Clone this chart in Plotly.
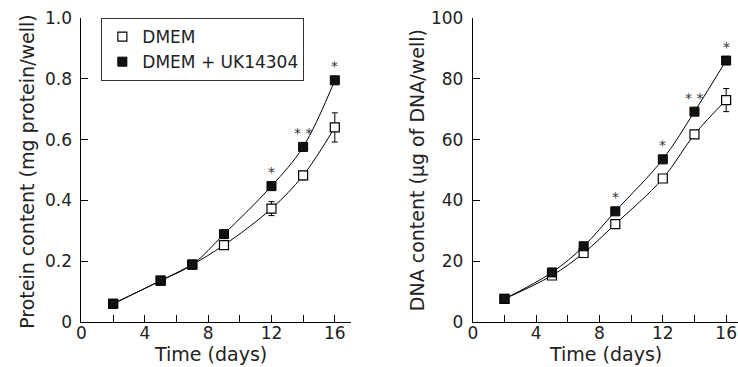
import plotly.graph_objects as go

# ---------------- data ----------------
days = [2, 5, 7, 9, 12, 14, 16]

protein_dmem = [0.060, 0.136, 0.189, 0.253, 0.373, 0.482, 0.640]
protein_dmem_err = [0, 0, 0, 0, 0.023, 0.014, 0.048]
protein_uk = [0.060, 0.136, 0.189, 0.289, 0.447, 0.576, 0.795]
protein_uk_err = [0, 0, 0, 0, 0, 0, 0.008]

dna_dmem = [7.6, 15.3, 22.7, 32.2, 47.2, 61.7, 73.0]
dna_dmem_err = [0, 0, 0, 0, 0, 1.3, 3.8]
dna_uk = [7.6, 16.3, 24.9, 36.4, 53.5, 69.2, 86.0]
dna_uk_err = [0, 0, 0, 0, 0, 0.8, 0]

protein_sig_days = [12, 14, 16]
protein_sig_marks = ["*", "* *", "*"]
dna_sig_days = [9, 12, 14, 16]
dna_sig_marks = ["*", "*", "* *", "*"]

x_tickvals = [0, 2, 4, 6, 8, 10, 12, 14, 16]
x_ticktext = ["0", "", "4", "", "8", "", "12", "", "16"]
protein_tickvals = [0, 0.2, 0.4, 0.6, 0.8, 1.0]
protein_ticktext = ["0", "0.2", "0.4", "0.6", "0.8", "1.0"]
dna_tickvals = [0, 20, 40, 60, 80, 100]
dna_ticktext = ["0", "20", "40", "60", "80", "100"]

series_names = ["DMEM", "DMEM + UK14304"]

# ---------------- figure ----------------
W, H = 738, 367
MT, MB = 18, 45
PH = H - MT - MB
FONT = "DejaVu Sans"

def px_x(p):
    return p / W

def px_y(p):
    return (H - MB - p) / PH

fig = go.Figure()

def add_panel(xa, ya, yvals_open, err_open, yvals_fill, err_fill, legend):
    for yv in (yvals_open, yvals_fill):
        fig.add_trace(go.Scatter(
            x=days, y=yv, mode="lines", line=dict(color="black", width=1, shape="spline", smoothing=1.0),
            xaxis=xa, yaxis=ya, showlegend=False, hoverinfo="skip"))
    fig.add_trace(go.Scatter(
        x=days, y=yvals_open, mode="markers", name=series_names[0],
        marker=dict(symbol="square", size=9, color="white", line=dict(color="black", width=1.2)),
        error_y=dict(type="data", array=err_open, visible=True, color="black", thickness=1, width=3),
        xaxis=xa, yaxis=ya, showlegend=legend, legendrank=1))
    fig.add_trace(go.Scatter(
        x=days, y=yvals_fill, mode="markers", name=series_names[1],
        marker=dict(symbol="square", size=9, color="#111111", line=dict(color="black", width=1)),
        error_y=dict(type="data", array=err_fill, visible=True, color="black", thickness=1, width=3),
        xaxis=xa, yaxis=ya, showlegend=legend, legendrank=2))

add_panel("x", "y", protein_dmem, protein_dmem_err, protein_uk, protein_uk_err, True)
add_panel("x2", "y2", dna_dmem, dna_dmem_err, dna_uk, dna_uk_err, False)

axis_common = dict(
    showline=True, linecolor="black", linewidth=1, ticks="inside", ticklen=7,
    tickcolor="black", tickwidth=1, showgrid=False, zeroline=False,
    tickfont=dict(family=FONT, size=17, color="#222222"))

fig.update_layout(
    xaxis=dict(domain=[px_x(77), px_x(348)], range=[0, 17.0], tickvals=x_tickvals,
               ticktext=x_ticktext, anchor="y", ticklabelstandoff=-4, **axis_common),
    yaxis=dict(domain=[0, 1], range=[0, 1.0], tickvals=protein_tickvals,
               ticktext=protein_ticktext, anchor="x", ticklabelstandoff=5, **axis_common),
    xaxis2=dict(domain=[px_x(471), 1.0], range=[0, 16.75], tickvals=x_tickvals,
                ticktext=x_ticktext, anchor="y2", ticklabelstandoff=-4, **axis_common),
    yaxis2=dict(domain=[0, 1], range=[0, 100], tickvals=dna_tickvals,
                ticktext=dna_ticktext, anchor="x2", ticklabelstandoff=5, **axis_common),
)

star_font = dict(family=FONT, size=14, color="#333333")
annotations = []
for d, m in zip(protein_sig_days, protein_sig_marks):
    annotations.append(dict(x=d, y=protein_uk[days.index(d)], xref="x", yref="y", text=m,
                            showarrow=False, yshift=14, font=star_font))
for d, m in zip(dna_sig_days, dna_sig_marks):
    annotations.append(dict(x=d, y=dna_uk[days.index(d)], xref="x2", yref="y2", text=m,
                            showarrow=False, yshift=14, font=star_font))

title_font = dict(family=FONT, size=19, color="#222222")
annotations += [
    dict(text="Time (days)", x=px_x(207), y=px_y(354), xref="paper", yref="paper",
         showarrow=False, xanchor="center", yanchor="middle", font=title_font),
    dict(text="Time (days)", x=px_x(605), y=px_y(354), xref="paper", yref="paper",
         showarrow=False, xanchor="center", yanchor="middle", font=title_font),
    dict(text="Protein content (mg protein/well)", x=px_x(22), y=px_y(171), xref="paper", yref="paper",
         showarrow=False, textangle=-90, xanchor="center", yanchor="middle", font=title_font),
    dict(text="DNA content (µg of DNA/well)", x=px_x(415), y=px_y(170), xref="paper", yref="paper",
         showarrow=False, textangle=-90, xanchor="center", yanchor="middle", font=title_font),
]

fig.update_layout(
    width=W, height=H,
    margin=dict(l=0, r=0, t=MT, b=MB, pad=0),
    paper_bgcolor="white", plot_bgcolor="white",
    annotations=annotations,
    legend=dict(x=px_x(97), y=1.0, xanchor="left", yanchor="top",
                bordercolor="#333333", borderwidth=1, bgcolor="white",
                font=dict(family=FONT, size=17, color="#222222"),
                itemwidth=30, tracegroupgap=0, traceorder="normal"),
    showlegend=True,
)

fig.write_html("out.html", config={"displayModeBar": False},
               post_script="document.body.style.margin='0px';")
